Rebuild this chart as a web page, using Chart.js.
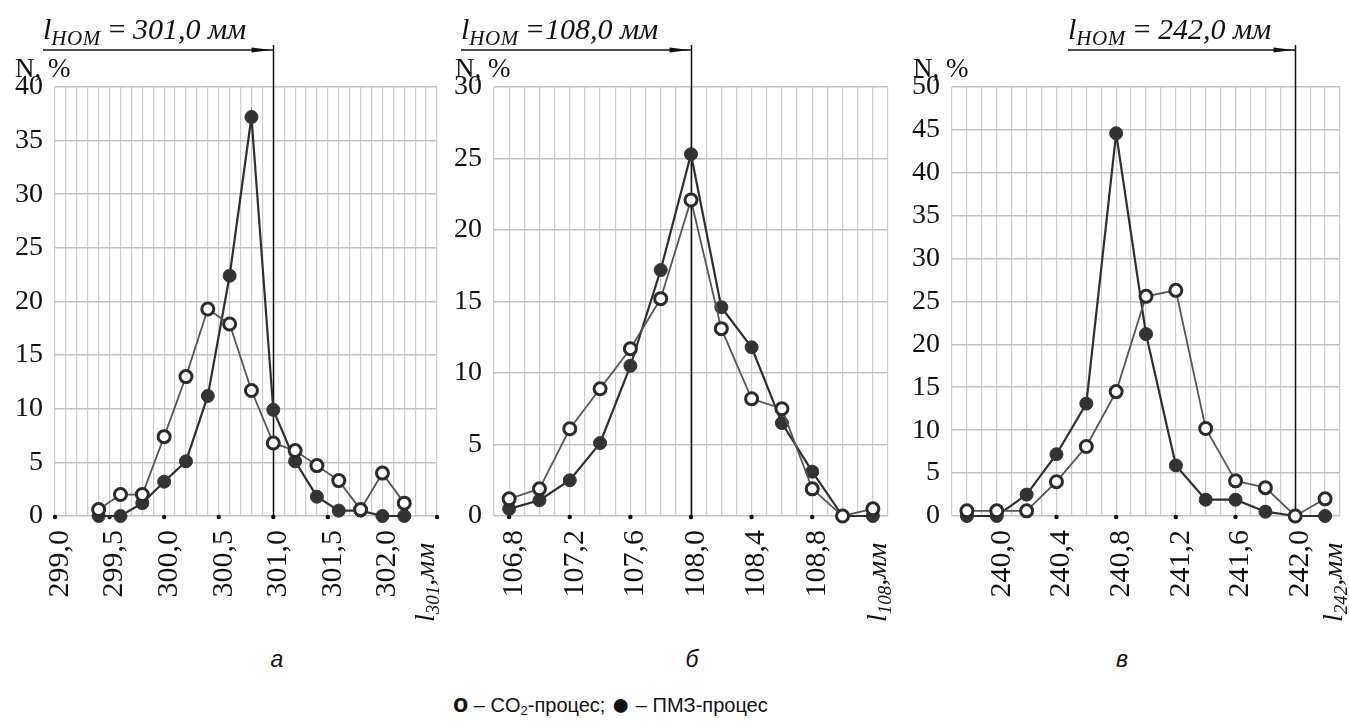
<!DOCTYPE html>
<html>
<head>
<meta charset="utf-8">
<script src="https://cdn.jsdelivr.net/npm/chart.js@4.4.1/dist/chart.umd.min.js"></script>
<style>
    body { margin: 0; background: #fff; width: 1349px; height: 724px; position: relative; overflow: hidden;
           font-family: "Liberation Serif", "Times New Roman", serif; color: #111; }
    canvas { position: absolute; top: 0; }
    .nom { position: absolute; top: 14px; font-style: italic; font-size: 30px; line-height: 1; white-space: nowrap; }
    .nom sub { font-size: 21px; vertical-align: -6px; letter-spacing: 0.5px; }
    .nlab { position: absolute; top: 55px; font-size: 27px; line-height: 1; white-space: nowrap; }
    .axname { position: absolute; top: 622px; font-style: italic; font-size: 28px; line-height: 28px; white-space: nowrap;
              transform-origin: 0 0; transform: rotate(-90deg); }
    .axname sub { font-size: 19px; vertical-align: -5px; }
    .cap { position: absolute; top: 648px; font-family: "Liberation Sans", Arial, sans-serif; font-style: italic;
           font-size: 23px; line-height: 1; transform: translateX(-50%); }
    .legend { position: absolute; top: 691px; left: 453px; font-family: "Liberation Sans", Arial, sans-serif;
              font-size: 20px; line-height: 1; white-space: nowrap; }
    .legend sub { font-size: 13px; vertical-align: -3px; }
    .legend .mk { font-size: 25px; font-weight: bold; }
    .legend .dot { font-size: 32px; line-height: 20px; vertical-align: -3px; }
</style>
</head>
<body>
<canvas id="chartA" width="450" height="640" style="left:0px"></canvas>
<canvas id="chartB" width="460" height="640" style="left:440px"></canvas>
<canvas id="chartC" width="449" height="640" style="left:900px"></canvas>

<div class="nom" style="left:43px"><i>l</i><sub>НОМ</sub>&thinsp;=&thinsp;301,0 мм</div>
<div class="nom" style="left:461px"><i>l</i><sub>НОМ</sub>&thinsp;=108,0 мм</div>
<div class="nom" style="left:1068px"><i>l</i><sub>НОМ</sub>&thinsp;=&thinsp;242,0 мм</div>

<div class="nlab" style="left:15px">N, %</div>
<div class="nlab" style="left:455px">N, %</div>
<div class="nlab" style="left:913px">N, %</div>

<div class="axname" style="left:411px"><i>l</i><sub>301</sub>,мм</div>
<div class="axname" style="left:863px"><i>l</i><sub>108</sub>,мм</div>
<div class="axname" style="left:1319px"><i>l</i><sub>242</sub>,мм</div>

<div class="cap" style="left:277px">а</div>
<div class="cap" style="left:692px">б</div>
<div class="cap" style="left:1122px">в</div>

<div class="legend"><span class="mk">o</span> – CO<sub>2</sub>-процес; <span class="dot">●</span> – ПМЗ-процес</div>

<script>
// Panel a: l_ном = 301,0 мм
const xsA = [299.4, 299.6, 299.8, 300.0, 300.2, 300.4, 300.6, 300.8, 301.0, 301.2, 301.4, 301.6, 301.8, 302.0, 302.2];
const co2A = [0.6, 2.0, 2.0, 7.4, 13.0, 19.3, 17.9, 11.7, 6.8, 6.1, 4.7, 3.3, 0.6, 4.0, 1.2];
const pmzA = [0, 0, 1.2, 3.2, 5.1, 11.2, 22.4, 37.2, 9.9, 5.1, 1.8, 0.5, 0.5, 0, 0];
const ticksA = [299.0, 299.5, 300.0, 300.5, 301.0, 301.5, 302.0];

// Panel б: l_ном = 108,0 мм
const xsB = [106.8, 107.0, 107.2, 107.4, 107.6, 107.8, 108.0, 108.2, 108.4, 108.6, 108.8, 109.0, 109.2];
const co2B = [1.2, 1.9, 6.1, 8.9, 11.7, 15.2, 22.1, 13.1, 8.2, 7.5, 1.9, 0, 0.5];
const pmzB = [0.5, 1.1, 2.5, 5.1, 10.5, 17.2, 25.3, 14.6, 11.8, 6.5, 3.1, 0, 0];
const ticksB = [106.8, 107.2, 107.6, 108.0, 108.4, 108.8];

// Panel в: l_ном = 242,0 мм
const xsC = [239.8, 240.0, 240.2, 240.4, 240.6, 240.8, 241.0, 241.2, 241.4, 241.6, 241.8, 242.0, 242.2];
const co2C = [0.6, 0.6, 0.6, 4.0, 8.1, 14.5, 25.6, 26.3, 10.2, 4.1, 3.3, 0, 2.0];
const pmzC = [0, 0, 2.5, 7.2, 13.1, 44.6, 21.2, 5.9, 1.9, 1.9, 0.5, 0, 0];
const ticksC = [240.0, 240.4, 240.8, 241.2, 241.6, 242.0];

const nominals = [301.0, 108.0, 242.0];

const panels = [
    { id: 'chartA', xs: xsA, co2: co2A, pmz: pmzA, ticks: ticksA, nominal: nominals[0],
      xMin: 299.0, xMax: 302.5, yMax: 40, yWidth: 55, padRight: 13, arrowFrom: 43, endDot: true },
    { id: 'chartB', xs: xsB, co2: co2B, pmz: pmzB, ticks: ticksB, nominal: nominals[1],
      xMin: 106.7, xMax: 109.3, yMax: 30, yWidth: 54, padRight: 12, arrowFrom: 21, endDot: false },
    { id: 'chartC', xs: xsC, co2: co2C, pmz: pmzC, ticks: ticksC, nominal: nominals[2],
      xMin: 239.7, xMax: 242.3, yMax: 50, yWidth: 52, padRight: 4, arrowFrom: 168, endDot: false }
];

const SERIF = "'Liberation Serif', 'Times New Roman', serif";

// nominal size line with arrow + the small dots on the x axis
const markup = {
    id: 'markup',
    beforeDatasetsDraw(chart, args, opts) {
        const { ctx, chartArea } = chart;
        const x = chart.scales.x;
        ctx.save();
        ctx.fillStyle = '#111';
        const dots = opts.endDot ? opts.ticks.concat([x.max]) : opts.ticks;
        dots.forEach(v => {
            ctx.beginPath();
            ctx.arc(x.getPixelForValue(v), chartArea.bottom + 1, 2.2, 0, Math.PI * 2);
            ctx.fill();
        });

        const xn = Math.round(x.getPixelForValue(opts.nominal)) + 0.5;
        ctx.strokeStyle = '#111';
        ctx.lineWidth = 1.5;
        ctx.beginPath();
        ctx.moveTo(xn, 45);
        ctx.lineTo(xn, chartArea.bottom);
        ctx.stroke();
        ctx.beginPath();
        ctx.moveTo(opts.arrowFrom, 50);
        ctx.lineTo(xn, 50);
        ctx.stroke();
        ctx.beginPath();
        ctx.moveTo(xn - 2, 50);
        ctx.lineTo(xn - 22, 47.5);
        ctx.lineTo(xn - 22, 52.5);
        ctx.closePath();
        ctx.fill();
        ctx.restore();
    }
};

function tickLabel(list) {
    return v => {
        const hit = list.find(t => Math.abs(t - v) < 1e-6);
        return hit === undefined ? '' : hit.toFixed(1).replace('.', ',');
    };
}

function makePanel(p) {
    const toPoints = ys => p.xs.map((x, i) => ({ x: x, y: ys[i] }));
    new Chart(document.getElementById(p.id), {
        type: 'line',
        data: {
            datasets: [
                {
                    label: 'CO2-процес',
                    data: toPoints(p.co2),
                    borderColor: '#555',
                    borderWidth: 1.8,
                    pointRadius: 6,
                    pointBackgroundColor: '#fff',
                    pointBorderColor: '#2b2b2b',
                    pointBorderWidth: 3,
                    clip: false
                },
                {
                    label: 'ПМЗ-процес',
                    data: toPoints(p.pmz),
                    borderColor: '#2f2f2f',
                    borderWidth: 2.2,
                    pointRadius: 6.5,
                    pointBackgroundColor: '#333',
                    pointBorderColor: '#333',
                    pointBorderWidth: 1,
                    clip: false
                }
            ]
        },
        options: {
            responsive: false,
            animation: false,
            devicePixelRatio: 1,
            layout: { padding: { top: 87, left: 0, right: p.padRight, bottom: 24 } },
            plugins: {
                legend: { display: false },
                tooltip: { enabled: false },
                markup: { ticks: p.ticks, nominal: p.nominal, arrowFrom: p.arrowFrom, endDot: p.endDot }
            },
            scales: {
                x: {
                    type: 'linear',
                    min: p.xMin,
                    max: p.xMax,
                    afterFit(s) { s.height = 100; s.paddingLeft = 0; s.paddingRight = 0; },
                    grid: { color: '#cdcdcd', lineWidth: 1.2, drawTicks: false },
                    border: { display: false },
                    ticks: {
                        stepSize: 0.1,
                        autoSkip: false,
                        minRotation: 90,
                        maxRotation: 90,
                        padding: 14,
                        labelOffset: 5,
                        color: '#111',
                        font: { family: SERIF, size: 30 },
                        callback: tickLabel(p.ticks)
                    }
                },
                y: {
                    min: 0,
                    max: p.yMax,
                    afterFit(s) { s.width = p.yWidth; s.paddingTop = 0; s.paddingBottom = 0; },
                    grid: { color: '#c2c2c2', lineWidth: 1.6, drawTicks: false },
                    border: { display: false },
                    ticks: {
                        stepSize: 5,
                        padding: 12,
                        color: '#111',
                        font: { family: SERIF, size: 28 }
                    }
                }
            }
        },
        plugins: [markup]
    });
}

window.addEventListener('load', () => {
    panels.forEach(makePanel);
});
</script>
</body>
</html>
